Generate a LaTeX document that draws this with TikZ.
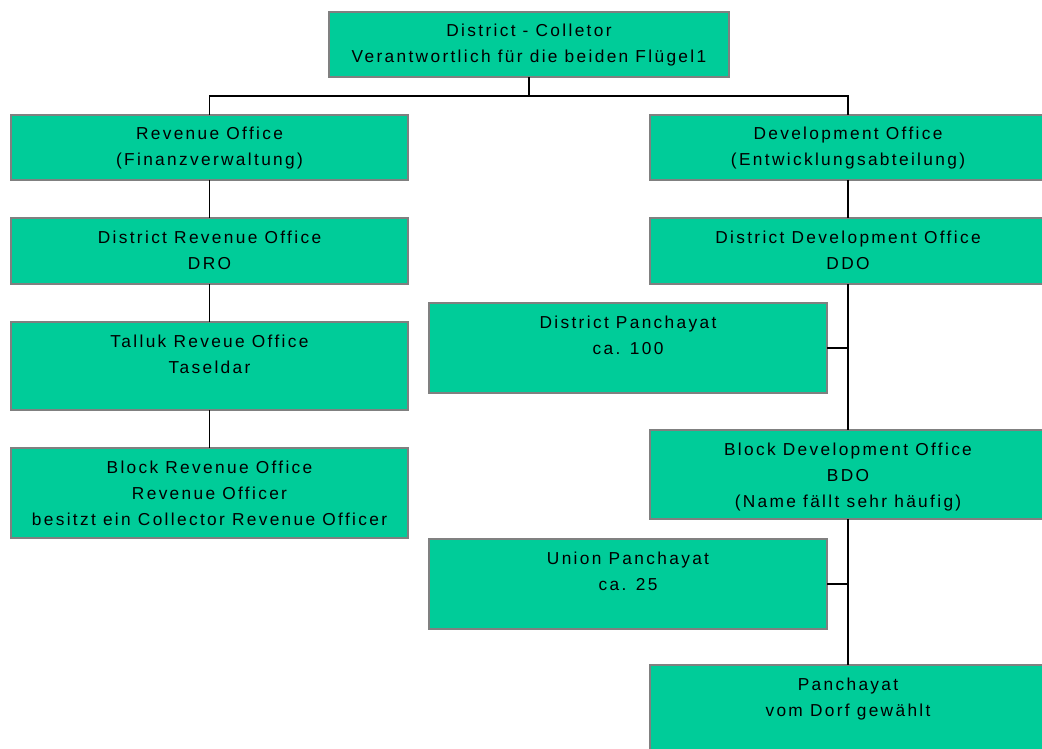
\documentclass[tikz,border=0pt]{standalone}
\usepackage{fontspec}
\setmainfont{Liberation Sans}[LetterSpace=13.5]
\definecolor{boxgreen}{RGB}{0,204,153}
\definecolor{boxgray}{RGB}{128,128,128}
% one office: an empty frame plus its caption, set from the top edge;
% #7 = number of caption lines (the base anchor sits on the last line)
\newcommand\orgunit[7]{%
  \node[orgbox, minimum width={(#4-#2)*1pt}, minimum height={(#5-#3)*1pt}]
    (#1) at ({(#2+#4)/2},{(#3+#5)/2}) {};
  \node[orgtext] (#1-text) at ([yshift={-25pt-(#7-1)*26pt}]#1.north) {#6};
}
\begin{document}
\begin{tikzpicture}[x=1pt,y=-1pt,
  orgbox/.style={rectangle, draw=boxgray, line width=1.4pt, fill=boxgreen, inner sep=0pt, outer sep=0pt},
  orgtext/.style={font=\fontsize{17.3}{26}\selectfont, align=center, anchor=base, inner sep=0pt, text=black},
  link/.style={line width=1.8pt, black}]
\clip (0,0) rectangle (1042,749);
\fill[white] (0,0) rectangle (1042,749);

\orgunit{top}{329}{12}{729}{77}{District - Colletor\\Verantwortlich für die beiden Flügel1}{2}

\orgunit{rev}{11}{115}{408}{180}{Revenue Office\\(Finanzverwaltung)}{2}
\orgunit{dro}{11}{218}{408}{284}{District Revenue Office\\DRO}{2}
\orgunit{tal}{11}{322}{408}{410}{Talluk Reveue Office\\Taseldar}{2}
\orgunit{bro}{11}{448}{408}{538}{Block Revenue Office\\Revenue Officer\\besitzt ein Collector Revenue Officer}{3}

\orgunit{dev}{650}{115}{1046}{180}{Development Office\\(Entwicklungsabteilung)}{2}
\orgunit{ddo}{650}{218}{1046}{284}{District Development Office\\DDO}{2}
\orgunit{dp}{429}{303}{827}{393}{District Panchayat\\ca. 100}{2}
\orgunit{bdo}{650}{430}{1046}{519}{Block Development Office\\BDO\\(Name fällt sehr häufig)}{3}
\orgunit{up}{429}{539}{827}{629}{Union Panchayat\\ca. 25}{2}
\orgunit{pan}{650}{665}{1046}{760}{Panchayat\\vom Dorf gewählt}{2}

\coordinate (bus) at (0,96);
\draw[link] (top.south) -- (top.south |- bus);
\draw[link] (rev.north) -- (rev.north |- bus) -| (dev.north);

\draw[link] (rev.south) -- (dro.north);
\draw[link] (dro.south) -- (tal.north);
\draw[link] (tal.south) -- (bro.north);

\draw[link] (dev.south) -- (ddo.north);
\draw[link] (ddo.south) -- (bdo.north);
\draw[link] (bdo.south) -- (pan.north);
\draw[link] (dp.east) -- (dp.east -| ddo.south);
\draw[link] (up.east) -- (up.east -| bdo.south);
\end{tikzpicture}
\end{document}
